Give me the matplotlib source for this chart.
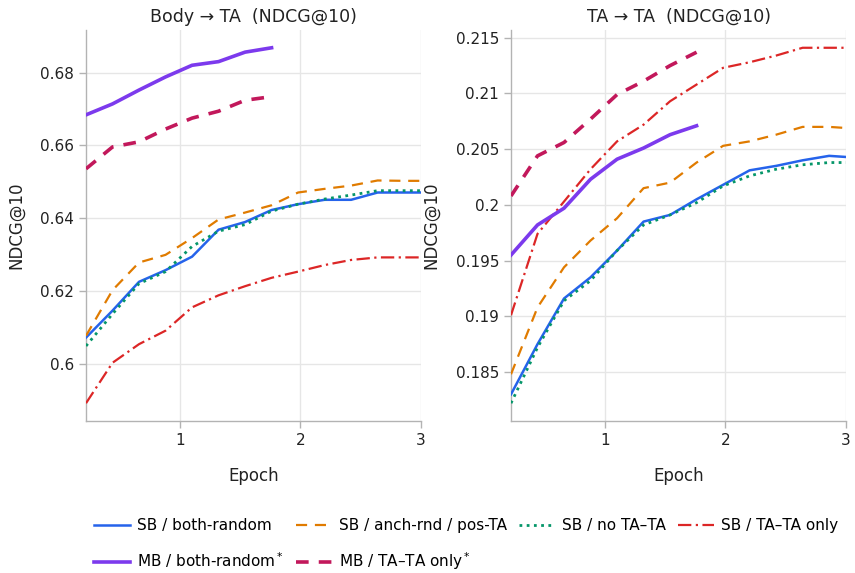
import matplotlib
matplotlib.use("Agg")
import matplotlib.pyplot as plt
from matplotlib.ticker import FuncFormatter, FixedLocator

epochs = [0.22, 0.44, 0.66, 0.88, 1.10, 1.32, 1.54, 1.76, 1.98, 2.20, 2.42, 2.64, 2.86, 3.00]
epochs_mb = epochs[:8]

# Body -> TA
body_sb_both = [0.6073, 0.6147, 0.6226, 0.6258, 0.6295, 0.6369, 0.6390, 0.6423, 0.6439, 0.6451, 0.6451, 0.6471, 0.6471, 0.6471]
body_sb_anch = [0.6078, 0.6203, 0.6279, 0.6300, 0.6346, 0.6397, 0.6416, 0.6436, 0.6471, 0.6481, 0.6490, 0.6504, 0.6503, 0.6503]
body_sb_nota = [0.6050, 0.6138, 0.6221, 0.6254, 0.6323, 0.6365, 0.6383, 0.6420, 0.6439, 0.6453, 0.6464, 0.6476, 0.6476, 0.6476]
body_sb_tata = [0.5893, 0.6004, 0.6055, 0.6092, 0.6156, 0.6189, 0.6214, 0.6237, 0.6254, 0.6272, 0.6286, 0.6293, 0.6293, 0.6293]
body_mb_both = [0.6684, 0.6714, 0.6752, 0.6788, 0.6820, 0.6830, 0.6856, 0.6868]
body_mb_tata = [0.6536, 0.6596, 0.6610, 0.6645, 0.6675, 0.6694, 0.6724, 0.6734]

# TA -> TA
ta_sb_both = [0.1830, 0.1875, 0.1916, 0.1935, 0.1959, 0.1985, 0.1991, 0.2005, 0.2018, 0.2031, 0.2035, 0.2040, 0.2044, 0.2043]
ta_sb_anch = [0.1848, 0.1908, 0.1944, 0.1968, 0.1988, 0.2015, 0.2020, 0.2038, 0.2053, 0.2057, 0.2063, 0.2070, 0.2070, 0.2069]
ta_sb_nota = [0.1822, 0.1872, 0.1914, 0.1932, 0.1959, 0.1982, 0.1991, 0.2002, 0.2017, 0.2026, 0.2032, 0.2036, 0.2038, 0.2038]
ta_sb_tata = [0.1901, 0.1974, 0.2003, 0.2032, 0.2057, 0.2072, 0.2093, 0.2108, 0.2123, 0.2128, 0.2134, 0.2141, 0.2141, 0.2141]
ta_mb_both = [0.1955, 0.1982, 0.1997, 0.2023, 0.2041, 0.2051, 0.2063, 0.2071]
ta_mb_tata = [0.2008, 0.2044, 0.2056, 0.2077, 0.2099, 0.2111, 0.2125, 0.2137]

labels = ["SB / both-random", "SB / anch-rnd / pos-TA", "SB / no TA\u2013TA", "SB / TA\u2013TA only",
          "MB / both-random$^*$", "MB / TA\u2013TA only$^*$"]
titles = ["Body \u2192 TA  (NDCG@10)", "TA \u2192 TA  (NDCG@10)"]
x_ticks = [1, 2, 3]
y_ticks_body = [0.60, 0.62, 0.64, 0.66, 0.68]
y_ticks_ta = [0.185, 0.19, 0.195, 0.2, 0.205, 0.21, 0.215]

colors = ["#2563eb", "#e07b00", "#059669", "#dc2626", "#7c3aed", "#c2185b"]
styles = [
    dict(ls="-", lw=1.8),
    dict(ls=(0, (5, 3.5)), lw=1.6),
    dict(ls=(0, (1, 1.6)), lw=2.0),
    dict(ls=(0, (6, 2, 1, 2)), lw=1.6),
    dict(ls="-", lw=2.6),
    dict(ls=(0, (3.5, 2.8)), lw=2.6),
]

fig = plt.figure(figsize=(8.55, 5.73), dpi=100)
ax1 = fig.add_axes([86/855, 1-421/573, 335/855, 391/573])
ax2 = fig.add_axes([511/855, 1-421/573, 335/855, 391/573])

panels = [
    (ax1, [body_sb_both, body_sb_anch, body_sb_nota, body_sb_tata, body_mb_both, body_mb_tata], y_ticks_body),
    (ax2, [ta_sb_both, ta_sb_anch, ta_sb_nota, ta_sb_tata, ta_mb_both, ta_mb_tata], y_ticks_ta),
]

fmt = FuncFormatter(lambda v, p: "{:g}".format(round(v, 4)))
handles = []
for i, (ax, series, yt) in enumerate(panels):
    hs = []
    for j, ys in enumerate(series):
        xs = epochs if len(ys) == len(epochs) else epochs_mb
        h, = ax.plot(xs, ys, color=colors[j], label=labels[j], zorder=3, **styles[j])
        hs.append(h)
    if i == 0:
        handles = hs
    ax.set_xlim(epochs[0], epochs[-1])
    ax.margins(y=0.05)
    ax.xaxis.set_major_locator(FixedLocator(x_ticks))
    ax.yaxis.set_major_locator(FixedLocator(yt))
    ax.yaxis.set_major_formatter(fmt)
    ax.grid(True, color="#e6e6e6", lw=1.0, zorder=0)
    for s in ["top", "right"]:
        ax.spines[s].set_visible(False)
    for s in ["left", "bottom"]:
        ax.spines[s].set_color("#b3b3b3")
        ax.spines[s].set_linewidth(1.0)
    ax.tick_params(colors="#b3b3b3", labelcolor="#222222", labelsize=11, length=5, width=1)
    ax.set_title(titles[i], fontsize=12.5, color="#222222", pad=6)
    ax.set_xlabel("Epoch", fontsize=12, color="#222222", labelpad=14)
    ax.set_ylabel("NDCG@10", fontsize=12, color="#222222", labelpad=11)

order = [0, 4, 1, 5, 2, 3]
fig.legend(handles=[handles[k] for k in order], labels=[labels[k] for k in order],
           loc="center", bbox_to_anchor=(466/855, 1-545/573),
           ncol=4, frameon=False, fontsize=11, handlelength=2.4, columnspacing=0.75,
           handletextpad=0.45, labelspacing=1.15)

fig.savefig("out.png", dpi=100)
